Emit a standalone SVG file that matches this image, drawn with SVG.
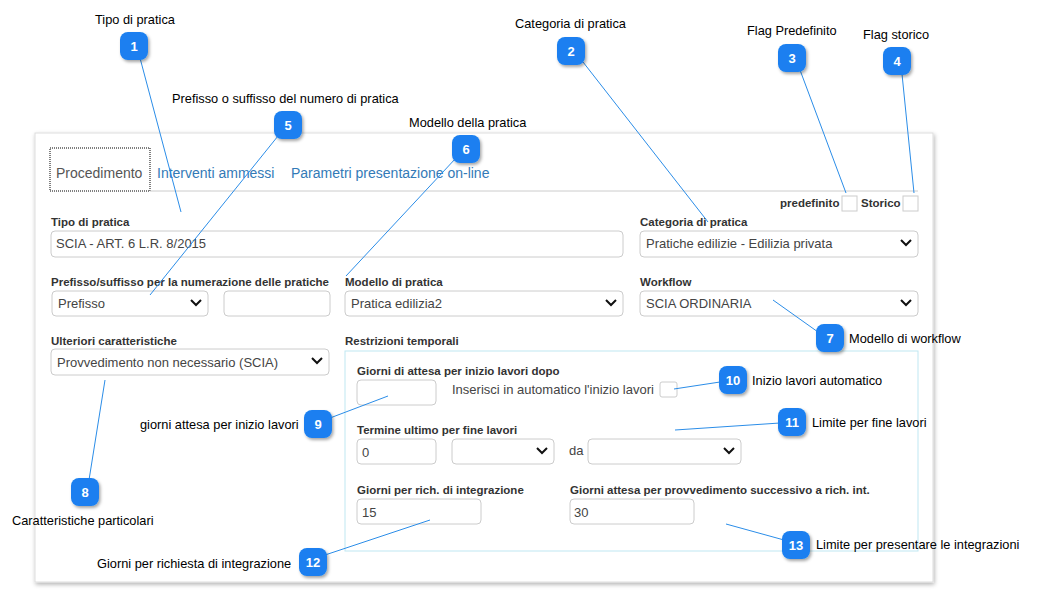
<svg xmlns="http://www.w3.org/2000/svg" width="1038" height="592" viewBox="0 0 1038 592">
<defs>
<filter id="sh" x="-30%" y="-30%" width="170%" height="170%"><feDropShadow dx="1.5" dy="2" stdDeviation="1.5" flood-color="#000" flood-opacity="0.35"/></filter>
<filter id="ps" x="-5%" y="-5%" width="110%" height="110%"><feDropShadow dx="1" dy="2" stdDeviation="2" flood-color="#000" flood-opacity="0.3"/></filter>
</defs>
<style>
text{font-family:"Liberation Sans",Arial,sans-serif}
.c{font-size:12.8px;fill:#000}
.lb{font-size:11.5px;font-weight:bold;fill:#333}
.v{font-size:13px;fill:#444}
.tab{font-size:14px;fill:#337ab7}
.in{fill:#fff;stroke:#ccc;stroke-width:1}
.bd{fill:#1a7ff0}
.bt{font-size:13px;font-weight:bold;fill:#fff;text-anchor:middle}
.ln{stroke:#2b8de8;stroke-width:1;fill:none}
.ch{fill:none;stroke:#111;stroke-width:2}
</style>
<rect x="0" y="0" width="1038" height="592" fill="#fff"/>
<g id="panel">
<rect x="35" y="133" width="898" height="449" fill="#fff" stroke="#ddd" filter="url(#ps)"/>
<rect x="50" y="148" width="100" height="43" fill="none" stroke="#000" stroke-dasharray="1,1"/>
<text x="56" y="178" font-size="14" fill="#555">Procedimento</text>
<text x="157" y="178" class="tab">Interventi ammessi</text>
<text x="291" y="178" class="tab">Parametri presentazione on-line</text>
<line x1="150" y1="191" x2="918" y2="191" stroke="#ccc"/>
<text x="780" y="207" class="lb">predefinito</text>
<rect x="842" y="196" width="15" height="15" class="in"/>
<text x="861" y="207" class="lb">Storico</text>
<rect x="903" y="196" width="15" height="15" class="in"/>
<text x="51" y="226" class="lb">Tipo di pratica</text>
<rect x="51" y="231" width="572" height="26" rx="4" class="in"/>
<text x="56" y="248" class="v">SCIA - ART. 6 L.R. 8/2015</text>
<text x="640" y="226" class="lb">Categoria di pratica</text>
<rect x="640" y="231" width="278" height="26" rx="4" class="in"/>
<text x="646" y="248" class="v">Pratiche edilizie - Edilizia privata</text>
<path d="M901 240l5 5 5-5" class="ch"/>
<text x="51" y="286" class="lb">Prefisso/suffisso per la numerazione delle pratiche</text>
<rect x="52" y="291" width="156" height="25" rx="4" class="in"/>
<text x="58" y="308" class="v">Prefisso</text>
<path d="M191 300l5 5 5-5" class="ch"/>
<rect x="224" y="291" width="106" height="25" rx="4" class="in"/>
<text x="345" y="286" class="lb">Modello di pratica</text>
<rect x="345" y="291" width="278" height="25" rx="4" class="in"/>
<text x="351" y="308" class="v">Pratica edilizia2</text>
<path d="M606 300l5 5 5-5" class="ch"/>
<text x="640" y="286" class="lb">Workflow</text>
<rect x="640" y="291" width="278" height="25" rx="4" class="in"/>
<text x="646" y="308" class="v">SCIA ORDINARIA</text>
<path d="M901 300l5 5 5-5" class="ch"/>
<text x="51" y="345" class="lb">Ulteriori caratteristiche</text>
<rect x="51" y="349" width="278" height="26" rx="4" class="in"/>
<text x="57" y="367" class="v">Provvedimento non necessario (SCIA)</text>
<path d="M312 358l5 5 5-5" class="ch"/>
<text x="345" y="345" class="lb">Restrizioni temporali</text>
<rect x="345" y="351" width="573" height="200" fill="none" stroke="#bfe7f2"/>
<text x="357" y="375" class="lb">Giorni di attesa per inizio lavori dopo</text>
<rect x="357" y="380" width="79" height="25" rx="4" class="in"/>
<text x="452" y="394" class="v">Inserisci in automatico l'inizio lavori</text>
<rect x="660" y="382" width="17" height="15" rx="2" class="in"/>
<text x="357" y="434" class="lb">Termine ultimo per fine lavori</text>
<rect x="357" y="439" width="79" height="25" rx="4" class="in"/>
<text x="362" y="457" class="v">0</text>
<rect x="452" y="439" width="102" height="25" rx="4" class="in"/>
<path d="M537 448l5 5 5-5" class="ch"/>
<text x="569" y="455" class="v">da</text>
<rect x="588" y="439" width="153" height="25" rx="4" class="in"/>
<path d="M724 448l5 5 5-5" class="ch"/>
<text x="357" y="494" class="lb">Giorni per rich. di integrazione</text>
<rect x="357" y="499" width="124" height="25" rx="4" class="in"/>
<text x="362" y="517" class="v">15</text>
<text x="570" y="494" class="lb">Giorni attesa per provvedimento successivo a rich. int.</text>
<rect x="570" y="499" width="124" height="25" rx="4" class="in"/>
<text x="574" y="517" class="v">30</text>
</g>
<g id="connectors">
<line class="ln" x1="140" y1="58" x2="181" y2="212"/>
<line class="ln" x1="583" y1="62" x2="708" y2="222"/>
<line class="ln" x1="800" y1="70" x2="846" y2="193"/>
<line class="ln" x1="902" y1="74" x2="914" y2="193"/>
<line class="ln" x1="278" y1="136" x2="150" y2="295"/>
<line class="ln" x1="456" y1="158" x2="346" y2="276"/>
<line class="ln" x1="818" y1="332" x2="773" y2="300"/>
<line class="ln" x1="89" y1="480" x2="105" y2="380"/>
<line class="ln" x1="330" y1="418" x2="388" y2="396"/>
<line class="ln" x1="720" y1="382" x2="674" y2="389"/>
<line class="ln" x1="780" y1="423" x2="675" y2="430"/>
<line class="ln" x1="325" y1="555" x2="430" y2="520"/>
<line class="ln" x1="784" y1="540" x2="726" y2="524"/>
</g>
<g id="n1"><rect class="bd" x="120" y="32" width="28" height="28" rx="8" filter="url(#sh)"/><text class="bt" x="134" y="51">1</text><text class="c" x="95" y="24">Tipo di pratica</text></g>
<g id="n2"><rect class="bd" x="557" y="37" width="28" height="28" rx="8" filter="url(#sh)"/><text class="bt" x="571" y="56">2</text><text class="c" x="515" y="28">Categoria di pratica</text></g>
<g id="n3"><rect class="bd" x="778" y="44" width="28" height="28" rx="8" filter="url(#sh)"/><text class="bt" x="792" y="63">3</text><text class="c" x="747" y="35">Flag Predefinito</text></g>
<g id="n4"><rect class="bd" x="883" y="47" width="28" height="28" rx="8" filter="url(#sh)"/><text class="bt" x="897" y="66">4</text><text class="c" x="863" y="39">Flag storico</text></g>
<g id="n5"><rect class="bd" x="274" y="111" width="28" height="28" rx="8" filter="url(#sh)"/><text class="bt" x="288" y="130">5</text><text class="c" x="172" y="103">Prefisso o suffisso del numero di pratica</text></g>
<g id="n6"><rect class="bd" x="452" y="135" width="28" height="28" rx="8" filter="url(#sh)"/><text class="bt" x="466" y="154">6</text><text class="c" x="409" y="127">Modello della pratica</text></g>
<g id="n7"><rect class="bd" x="816" y="324" width="28" height="28" rx="8" filter="url(#sh)"/><text class="bt" x="830" y="343">7</text><text class="c" x="849" y="343">Modello di workflow</text></g>
<g id="n8"><rect class="bd" x="71" y="478" width="28" height="28" rx="8" filter="url(#sh)"/><text class="bt" x="85" y="497">8</text><text class="c" x="12" y="525">Caratteristiche particolari</text></g>
<g id="n9"><rect class="bd" x="304" y="410" width="28" height="28" rx="8" filter="url(#sh)"/><text class="bt" x="318" y="429">9</text><text class="c" x="140" y="429">giorni attesa per inizio lavori</text></g>
<g id="n10"><rect class="bd" x="719" y="366" width="28" height="28" rx="8" filter="url(#sh)"/><text class="bt" x="733" y="385">10</text><text class="c" x="752" y="385">Inizio lavori automatico</text></g>
<g id="n11"><rect class="bd" x="778" y="408" width="28" height="28" rx="8" filter="url(#sh)"/><text class="bt" x="792" y="427">11</text><text class="c" x="812" y="427">Limite per fine lavori</text></g>
<g id="n12"><rect class="bd" x="299" y="548" width="28" height="28" rx="8" filter="url(#sh)"/><text class="bt" x="313" y="567">12</text><text class="c" x="97" y="568">Giorni per richiesta di integrazione</text></g>
<g id="n13"><rect class="bd" x="782" y="531" width="28" height="28" rx="8" filter="url(#sh)"/><text class="bt" x="796" y="550">13</text><text class="c" x="816" y="549">Limite per presentare le integrazioni</text></g>
</svg>
